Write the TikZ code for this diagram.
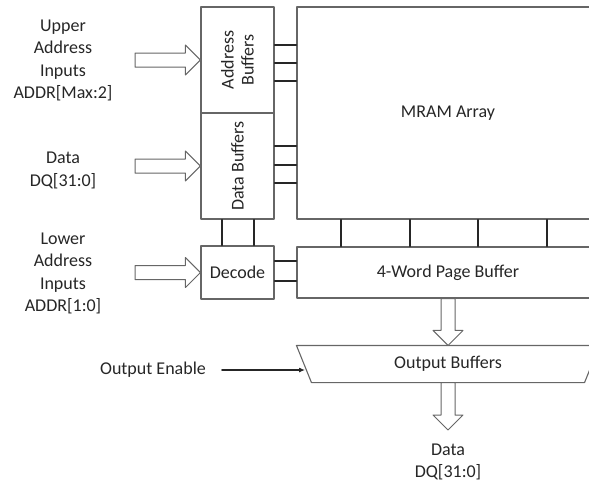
\documentclass[tikz,border=0pt]{standalone}
\usepackage{fontspec}
\setmainfont{Carlito}
\usetikzlibrary{calc,arrows.meta}
% hollow block arrows
\newcommand{\fatright}[2]{\draw[fat] ($(#1)+(0,-7)$) -- ($(#2)+(-15,-7)$) -- ($(#2)+(-15,-15)$) -- (#2) -- ($(#2)+(-15,15)$) -- ($(#2)+(-15,7)$) -- ($(#1)+(0,7)$) -- cycle;}
\newcommand{\fatdown}[2]{\draw[fat] ($(#1)+(-7,0)$) -- ($(#2)+(-7,-15)$) -- ($(#2)+(-15,-15)$) -- (#2) -- ($(#2)+(15,-15)$) -- ($(#2)+(7,-15)$) -- ($(#1)+(7,0)$) -- cycle;}
\begin{document}
\begin{tikzpicture}[x=1pt,y=-1pt,line join=round,line cap=round,line width=1.1pt,
  font=\fontsize{18}{22.5}\selectfont,text=black!85,
  box/.style={draw=black!60,inner sep=0pt,align=center},
  vtext/.style={rotate=90,align=center,font=\fontsize{18}{20}\selectfont},
  wire/.style={draw=black!85},
  fat/.style={draw=black!60,fill=white,line width=1pt}]
\useasboundingbox (0,0) rectangle (589,485);
\clip (0,0) rectangle (589,485);
% blocks
\node[box,minimum width=73,minimum height=106] (ab) at (237.5,60) {};
\node[vtext] at (ab) {Address\\Buffers};
\node[box,minimum width=73,minimum height=106] (db) at (237.5,166) {};
\node[vtext] at (db) {Data Buffers};
\node[box,minimum width=73,minimum height=53] (dec) at (237.5,272.5) {Decode};
\node[box,minimum width=302,minimum height=212] (mram) at (448,113) {MRAM Array};
\node[box,minimum width=302,minimum height=51] (pb) at (448,272.5) {4-Word Page Buffer};
\node[inner sep=0pt,minimum width=302,minimum height=36] (ob) at (448,364) {Output Buffers};
\draw[black!60] (ob.north west) -- (ob.north east) -- ($(ob.south east)+(-15,0)$) -- ($(ob.south west)+(15,0)$) -- cycle;
% labels
\node[align=center] (up) at (63,60.5) {Upper\\Address\\Inputs\\ADDR[Max:2]};
\node[align=center] (din) at (63,170.5) {Data\\DQ[31:0]};
\node[align=center] (lo) at (63,273.5) {Lower\\Address\\Inputs\\ADDR[1:0]};
\node (oe) at (153,370) {Output Enable};
\node[align=center] (dq) at (448,462) {Data\\DQ[31:0]};
\coordinate (upin) at (135,60);
\coordinate (dinin) at (135,166);
\coordinate (loin) at (135,272.5);
\coordinate (oetip) at (305,370);
\coordinate (dqtip) at (448,430);
% wires
\foreach \y in {45,63,81,146,165,183}
  \draw[wire] (ab.east |- 0,\y) -- (mram.west |- 0,\y);
\foreach \x in {222,254}
  \draw[wire] (db.south -| \x,0) -- (dec.north -| \x,0);
\foreach \x in {341,410,478,547}
  \draw[wire] (mram.south -| \x,0) -- (pb.north -| \x,0);
\foreach \y in {261,281}
  \draw[wire] (dec.east |- 0,\y) -- (pb.west |- 0,\y);
\draw[wire,-{Latex[length=6pt,width=5pt]},shorten <=12pt] (oe) -- (oetip);
% bus arrows
\fatright{upin}{ab.west}
\fatright{dinin}{db.west}
\fatright{loin}{dec.west}
\fatdown{pb.south}{ob.north}
\fatdown{ob.south}{dqtip}
\end{tikzpicture}
\end{document}
